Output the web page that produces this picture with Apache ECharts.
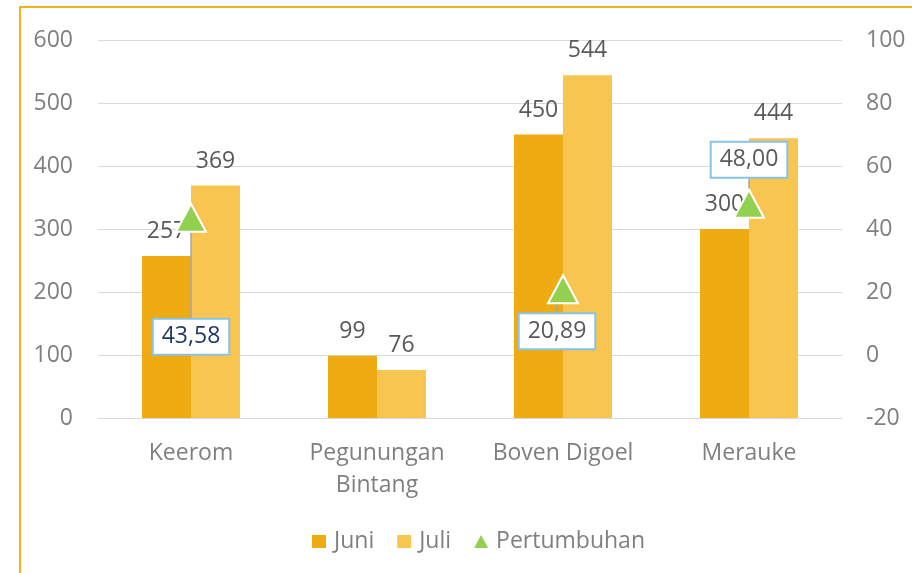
<!DOCTYPE html>
<html><head><meta charset="utf-8">
<script src="https://cdn.jsdelivr.net/npm/echarts@6/dist/echarts.min.js"></script>
<style>html,body{margin:0;padding:0;background:#fff}#c{width:912px;height:573px}</style>
</head><body><div id="c"></div>
<script>
const categories = ['Keerom', 'Pegunungan Bintang', 'Boven Digoel', 'Merauke'];
const juni = [257, 99, 450, 300];
const juli = [369, 76, 544, 444];
const pertumbuhan = [43.58, null, 20.89, 48.00];
const leftTicks = {min: 0, max: 600, interval: 100};
const rightTicks = {min: -20, max: 100, interval: 20};

// label placement style (offsets from marker), not data
const growthLabelShift = [[0, 119], [0, 0], [-6, 42], [0, -44]];
const growthLabelColor = ['#1F3864', '#595959', '#595959', '#595959'];

const FONT = '"Open Sans", sans-serif';
const FS = 23;
const chart = echarts.init(document.getElementById('c'));
const fmt = v => v.toFixed(2).replace('.', ',');

chart.setOption({
  animation: false,
  textStyle: {fontFamily: FONT},
  graphic: [{type: 'rect', shape: {x: 20, y: 7, width: 1000, height: 1000},
    style: {fill: 'none', stroke: '#F4B11C', lineWidth: 2}, silent: true}],
  grid: {left: 98, right: 70, top: 40, bottom: 155},
  legend: {
    left: 307, top: 525, itemWidth: 14, itemHeight: 13, itemGap: 23,
    textStyle: {color: '#7F7F7F', fontSize: FS, fontFamily: FONT, padding: [0, 0, 0, 3]},
    data: [{name: 'Juni', icon: 'rect'}, {name: 'Juli', icon: 'rect'},
      {name: 'Pertumbuhan', icon: 'path://M0,13L7,0L14,13Z', itemStyle: {borderWidth: 0, color: '#92D050'}}]
  },
  xAxis: {
    type: 'category', data: categories,
    axisLine: {show: false}, axisTick: {show: false},
    axisLabel: {color: '#7F7F7F', fontSize: FS, margin: 19, lineHeight: 32,
      formatter: v => v.length > 14 ? v.replace(' ', '\n') : v}
  },
  yAxis: [{
    type: 'value', min: leftTicks.min, max: leftTicks.max, interval: leftTicks.interval,
    axisLine: {show: false}, axisTick: {show: false},
    axisLabel: {color: '#7F7F7F', fontSize: FS, margin: 25},
    splitLine: {lineStyle: {color: '#D9D9D9', width: 1}}
  }, {
    type: 'value', min: rightTicks.min, max: rightTicks.max, interval: rightTicks.interval,
    axisLine: {show: false}, axisTick: {show: false},
    axisLabel: {color: '#7F7F7F', fontSize: FS, margin: 24},
    splitLine: {show: false}
  }],
  series: [{
    name: 'Juni', type: 'bar', data: juni, barWidth: 49, barGap: '0%',
    itemStyle: {color: '#EEAB12'},
    label: {show: true, position: 'top', distance: 13, color: '#595959', fontSize: FS}
  }, {
    name: 'Juli', type: 'bar', data: juli, barWidth: 49, barGap: '0%',
    itemStyle: {color: '#F8C550'},
    label: {show: true, position: 'top', distance: 13, color: '#595959', fontSize: FS}
  }, {
    name: 'Pertumbuhan', type: 'scatter', yAxisIndex: 1, z: 5,
    symbol: 'triangle', symbolSize: [30, 28],
    itemStyle: {color: '#92D050', borderColor: '#fff', borderWidth: 2, opacity: 1},
    data: pertumbuhan.map((v, i) => ({
      value: v === null ? '-' : v,
      label: {color: growthLabelColor[i]}
    })),
    label: {
      show: true, position: 'inside', fontSize: FS, opacity: 1,
      formatter: p => fmt(p.value),
      backgroundColor: '#fff', borderColor: '#86C3E6', borderWidth: 2,
      padding: [6, 8, 5, 8]
    },
    labelLine: {show: true, lineStyle: {color: '#A6A6A6', width: 1.5}},
    labelLayout: p => ({dx: growthLabelShift[p.dataIndex][0], dy: growthLabelShift[p.dataIndex][1]})
  }]
});
</script></body></html>
